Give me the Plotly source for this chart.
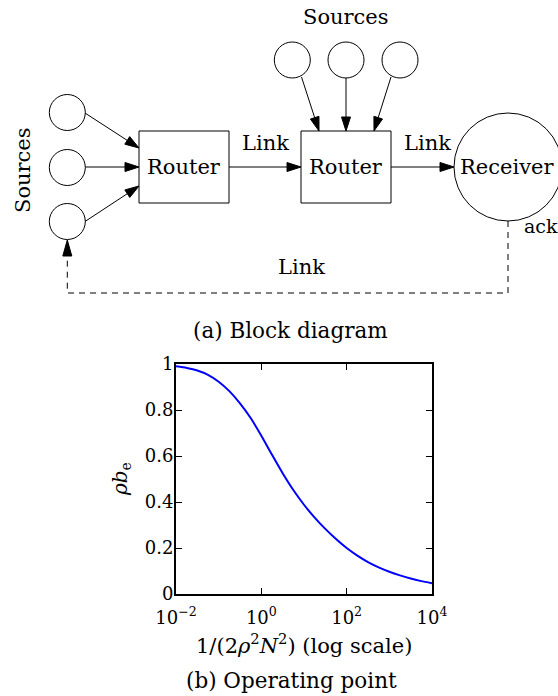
import math
import plotly.graph_objects as go

# ---------------- data: operating point curve ----------------
x_vals = [0.01, 0.0178, 0.0316, 0.0562, 0.1, 0.178, 0.316, 0.562, 1, 1.78, 3.16, 5.62, 10,
          17.8, 31.6, 56.2, 100, 178, 316, 562, 1000, 1778, 3162, 5623, 10000]
y_vals = [0.990, 0.983, 0.972, 0.953, 0.923, 0.882, 0.829, 0.765, 0.688, 0.605, 0.525, 0.452, 0.388,
          0.332, 0.283, 0.239, 0.200, 0.167, 0.139, 0.116, 0.097, 0.081, 0.067, 0.056, 0.047]
x_tick_vals = [0.01, 1, 100, 10000]
x_tick_text = ["10<sup>−2</sup>", "10<sup>0</sup>", "10<sup>2</sup>", "10<sup>4</sup>"]
y_tick_vals = [0, 0.2, 0.4, 0.6, 0.8, 1]
y_tick_text = ["0", "0.2", "0.4", "0.6", "0.8", "1"]

# ---------------- data: block diagram (diagram units) ----------------
src_r = 18
left_sources = [(67.3, 112.5), (67.3, 167.5), (67.3, 221.5)]
top_sources = [(292.3, 60), (346, 60), (400, 60)]
routers = [(139, 131, 229, 203), (301, 131, 391, 203)]
receiver = (508, 167, 54)
arrows = [((85, 113), (139, 148)), ((85.3, 167), (139, 167)), ((85, 221.5), (139, 186)),
          ((301.5, 77), (319, 131)), ((346, 78), (346, 131)), ((391, 77), (374, 131)),
          ((229, 167), (301, 167)), ((391, 167), (454, 167))]
feedback = [(508, 221), (508, 293), (67.3, 293), (67.3, 240)]
labels = [("Router", 184, 167), ("Router", 346, 167), ("Receiver", 507, 167),
          ("Link", 265, 143), ("Link", 427, 143), ("Link", 301, 267),
          ("Sources", 346, 17)]
ack_label = ("ack", 522, 226)
side_label = ("Sources", 23, 170)
captions = [("(a) Block diagram", 290, 330), ("(b) Operating point", 291, 680)]

W, H = 558, 696
FONT = "DejaVu Serif"
ax_left, ax_right, ax_top, ax_bot = 176, 432, 364, 594

fig = go.Figure()
fig.add_trace(go.Scatter(x=x_vals, y=y_vals, mode="lines",
                         line=dict(color="#0000ff", width=2, shape="spline", smoothing=0.6),
                         showlegend=False, hoverinfo="skip", xaxis="x", yaxis="y"))
fig.add_trace(go.Scatter(x=[], y=[], xaxis="x2", yaxis="y2", showlegend=False, hoverinfo="skip"))

shapes = []
annotations = []
LK = dict(color="black", width=1)

for cx, cy in left_sources + top_sources:
    shapes.append(dict(type="circle", xref="x2", yref="y2", x0=cx - src_r, x1=cx + src_r,
                       y0=cy - src_r, y1=cy + src_r, line=LK))
for x0, y0, x1, y1 in routers:
    shapes.append(dict(type="rect", xref="x2", yref="y2", x0=x0, x1=x1, y0=y0, y1=y1, line=LK))
rx, ry, rr = receiver
shapes.append(dict(type="circle", xref="x2", yref="y2", x0=rx - rr, x1=rx + rr, y0=ry - rr, y1=ry + rr, line=LK))


def arrowhead(start, tip, L=14, w=4.5):
    dx, dy = tip[0] - start[0], tip[1] - start[1]
    d = math.hypot(dx, dy)
    ux, uy = dx / d, dy / d
    bx, by = tip[0] - L * ux, tip[1] - L * uy
    nx, ny = -uy, ux
    p = f"M {tip[0]},{tip[1]} L {bx + w * nx},{by + w * ny} L {bx - w * nx},{by - w * ny} Z"
    return dict(type="path", xref="x2", yref="y2", path=p, fillcolor="black",
                line=dict(color="black", width=1)), (bx, by)


for s, t in arrows:
    head, base = arrowhead(s, t)
    shapes.append(dict(type="line", xref="x2", yref="y2", x0=s[0], y0=s[1], x1=base[0], y1=base[1], line=LK))
    shapes.append(head)

# dashed feedback link
head, base = arrowhead(feedback[-2], feedback[-1], L=16)
pts = feedback[:-1] + [base]
path = "M " + " L ".join(f"{px},{py}" for px, py in pts)
shapes.append(dict(type="path", xref="x2", yref="y2", path=path,
                   line=dict(color="black", width=1, dash="6px,5px")))
shapes.append(head)

for txt, tx, ty in labels:
    annotations.append(dict(text=txt, x=tx, y=ty, xref="x2", yref="y2", showarrow=False,
                            font=dict(family=FONT, size=21, color="black"), xanchor="center", yanchor="middle"))
annotations.append(dict(text=ack_label[0], x=ack_label[1], y=ack_label[2], xref="x2", yref="y2", showarrow=False,
                        font=dict(family=FONT, size=19, color="black"), xanchor="left", yanchor="middle"))
annotations.append(dict(text=side_label[0], x=side_label[1], y=side_label[2], xref="x2", yref="y2",
                        showarrow=False, textangle=-90, font=dict(family=FONT, size=21, color="black"),
                        xanchor="center", yanchor="middle"))
for txt, tx, ty in captions:
    annotations.append(dict(text=txt, x=tx, y=ty, xref="x2", yref="y2", showarrow=False,
                            font=dict(family=FONT, size=21.5, color="black"), xanchor="center", yanchor="middle"))
# axis titles
annotations.append(dict(text="1/(2<i>ρ</i><sup>2</sup><i>N</i><sup>2</sup>) (log scale)",
                        x=(ax_left + ax_right) / 2, y=644,
                        xref="x2", yref="y2", showarrow=False, font=dict(family=FONT, size=21, color="black"),
                        xanchor="center", yanchor="middle"))
annotations.append(dict(text="<i>ρb</i><sub>e</sub>", x=121, y=(ax_top + ax_bot) / 2, xref="x2", yref="y2",
                        showarrow=False, textangle=-90, font=dict(family=FONT, size=20, color="black"),
                        xanchor="center", yanchor="middle"))

axis_common = dict(showline=True, linecolor="black", linewidth=2, mirror="ticks", ticks="inside", ticklen=6,
                   tickwidth=1, tickcolor="black", showgrid=False, zeroline=False, automargin=False,
                   tickfont=dict(family=FONT, size=18, color="black"))

fig.update_layout(
    template="none",
    width=W, height=H, margin=dict(l=0, r=0, t=0, b=0, pad=0), autosize=False,
    paper_bgcolor="white", plot_bgcolor="rgba(0,0,0,0)",
    xaxis=dict(type="log", range=[-2, 4], domain=[ax_left / W, ax_right / W], anchor="y",
               tickvals=x_tick_vals, ticktext=x_tick_text, ticklabelstandoff=6, **axis_common),
    yaxis=dict(range=[0, 1], domain=[(H - ax_bot) / H, (H - ax_top) / H], anchor="x",
               tickvals=y_tick_vals, ticktext=y_tick_text, ticklabelstandoff=-3, **axis_common),
    xaxis2=dict(range=[0, W], domain=[0, 1], anchor="y2", visible=False, fixedrange=True, automargin=False),
    yaxis2=dict(range=[H, 0], domain=[0, 1], anchor="x2", visible=False, fixedrange=True, automargin=False),
    shapes=shapes, annotations=annotations, showlegend=False,
)

fig.write_html("out.html", config={"displayModeBar": False},
               post_script="document.body.style.margin='0';document.body.style.overflow='hidden';")
